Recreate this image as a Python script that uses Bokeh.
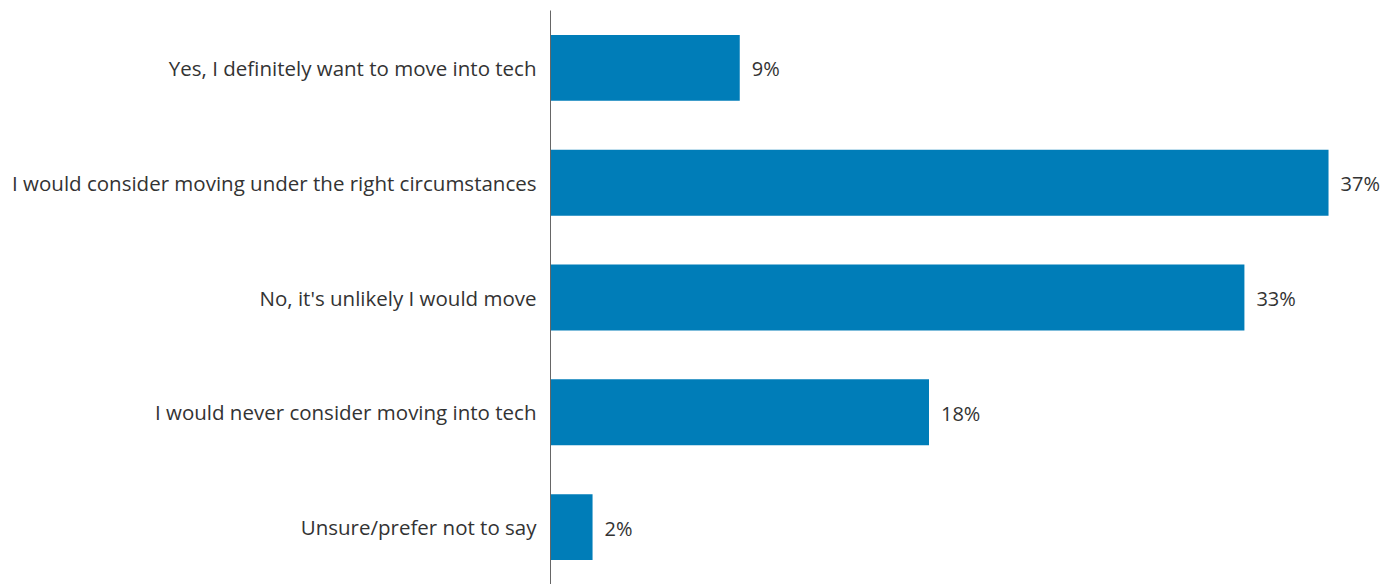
from bokeh.plotting import figure
from bokeh.models import ColumnDataSource, FactorRange, Range1d
from bokeh.core.properties import value
from bokeh.embed import file_html
from bokeh.resources import INLINE

categories = [
    "Yes, I definitely want to move into tech",
    "I would consider moving under the right circumstances",
    "No, it's unlikely I would move",
    "I would never consider moving into tech",
    "Unsure/prefer not to say",
]
values = [9, 37, 33, 18, 2]
labels = ["9%", "37%", "33%", "18%", "2%"]

cats_rev = categories[::-1]
src = ColumnDataSource(dict(cat=categories, val=values, lab=labels))

p = figure(width=1397, height=584, output_backend="svg", toolbar_location=None,
           y_range=FactorRange(factors=cats_rev, range_padding=0),
           x_range=Range1d(0, 40.28),
           min_border_left=550, min_border_right=0, min_border_top=10, min_border_bottom=0)
p.hbar(y="cat", right="val", height=0.574, source=src, color="#007DB8", line_color=None)
p.text(x="val", y="cat", text="lab", source=src, x_offset=12, y_offset=1, text_baseline="middle",
       text_align="left", text_font=value("Open Sans"), text_font_size="20px",
       text_color="#333333")

p.xaxis.visible = False
p.xgrid.visible = False
p.ygrid.visible = False
p.outline_line_color = None
p.yaxis.major_tick_line_color = None
p.yaxis.minor_tick_line_color = None
p.yaxis.axis_line_color = "#666666"
p.yaxis.major_label_standoff = 8
p.yaxis.major_label_text_font = "Open Sans"
p.yaxis.major_label_text_font_size = "20.5px"
p.yaxis.major_label_text_color = "#333333"
p.yaxis.major_label_text_font_style = "normal"

open("out.html", "w").write(file_html(p, INLINE))
